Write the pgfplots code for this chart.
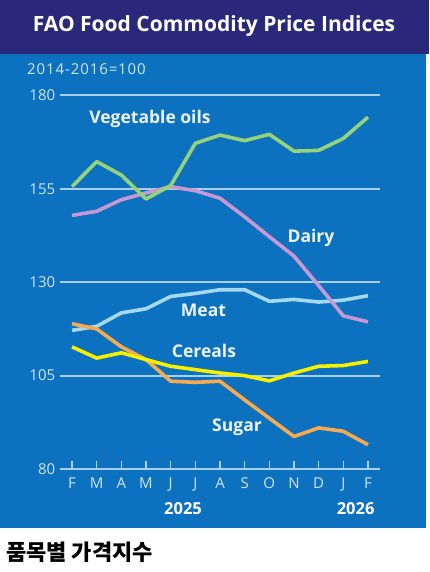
\documentclass[border=0pt]{standalone}
\usepackage{pgfplots}
\pgfplotsset{compat=1.18}
\usepackage{fontspec}
\setmainfont{Open Sans}
\newfontfamily\kr{Noto Sans CJK KR}
\newfontfamily\spaced{Open Sans}[LetterSpace=6]
\definecolor{navy}{RGB}{42,40,122}
\definecolor{panel}{RGB}{12,113,190}
\definecolor{gridc}{RGB}{170,208,240}
\definecolor{ticktext}{RGB}{212,228,245}
\definecolor{labtext}{RGB}{236,243,250}
\definecolor{vegc}{RGB}{150,210,122}
\definecolor{dairyc}{RGB}{200,152,212}
\definecolor{meatc}{RGB}{165,216,236}
\definecolor{cerc}{RGB}{246,240,0}
\definecolor{sugc}{RGB}{245,170,80}
\begin{document}
\begin{tikzpicture}
\useasboundingbox (0pt,0pt) rectangle (429pt,572pt);
\fill[white] (0pt,0pt) rectangle (429pt,572pt);
\fill[navy] (0pt,518pt) rectangle (429pt,572pt);
\fill[panel] (0pt,44pt) rectangle (426pt,518pt);
\node[anchor=base, text=white, inner sep=0pt, font=\bfseries\fontsize{21}{24}\selectfont] at (214pt,540pt) {FAO Food Commodity Price Indices};
\node[anchor=base west, text=ticktext, inner sep=0pt, font=\spaced\fontsize{15}{17}\selectfont] at (27pt,497pt) {2014-2016=100};
\node[anchor=base west, text=black, inner sep=0pt, font=\kr\bfseries\fontsize{22}{24}\selectfont] at (6pt,11pt) {품목별 가격지수};
\begin{axis}[
  at={(59.7pt,103pt)}, anchor=south west,
  scale only axis, width=320.6pt, height=373.5pt,
  xmin=-0.5, xmax=12.5, ymin=80, ymax=180,
  clip=false,
  axis line style={draw=none},
  xtick={0,...,12},
  xticklabels={F,M,A,M,J,J,A,S,O,N,D,J,F},
  ytick={80,105,130,155,180},
  ymajorgrids, grid style={gridc, line width=2pt},
  xtick pos=left, ytick pos=left,
  tick align=inside, major tick length=8pt,
  xtick style={gridc, line width=1.3pt},
  ytick style={draw=none},
  tick label style={text=ticktext, font=\fontsize{15}{17}\selectfont},
  xticklabel style={yshift=-5.5pt},
  yticklabel style={xshift=-1pt},
  /pgf/number format/assume math mode=true,
]
\addplot[meatc, line width=3.6pt, line join=round] coordinates {
(0,117.1) (1,118.2) (2,121.8) (3,122.9) (4,126.2) (5,127.0) (6,128.0) (7,128.0) (8,124.9) (9,125.4) (10,124.7) (11,125.2) (12,126.4)};
\addplot[dairyc, line width=3.6pt, line join=round] coordinates {
(0,147.9) (1,149.0) (2,152.1) (3,153.9) (4,155.6) (5,154.5) (6,152.5) (7,147.5) (8,142.2) (9,137.0) (10,129.1) (11,121.0) (12,119.4)};
\addplot[sugc, line width=3.6pt, line join=round] coordinates {
(0,118.9) (1,117.5) (2,112.7) (3,109.3) (4,103.5) (5,103.2) (6,103.5) (7,98.5) (8,93.6) (9,88.7) (10,91.0) (11,90.1) (12,86.5)};
\addplot[cerc, line width=3.6pt, line join=round] coordinates {
(0,112.7) (1,109.7) (2,111.1) (3,109.3) (4,107.5) (5,106.6) (6,105.7) (7,105.0) (8,103.6) (9,105.7) (10,107.5) (11,107.7) (12,108.8)};
\addplot[vegc, line width=3.6pt, line join=round] coordinates {
(0,155.6) (1,162.3) (2,158.7) (3,152.3) (4,155.9) (5,167.2) (6,169.4) (7,167.9) (8,169.6) (9,165.1) (10,165.3) (11,168.5) (12,174.2)};
\begin{scope}[every node/.style={anchor=base, text=labtext, inner sep=0pt, font=\bfseries\fontsize{17.5}{20}\selectfont}]
\node at (axis cs:3.16,172.6) {Vegetable oils};
\node at (axis cs:9.69,140.6) {Dairy};
\node at (axis cs:5.33,120.8) {Meat};
\node at (axis cs:5.35,109.9) {Cereals};
\node at (axis cs:6.69,90.0) {Sugar};
\end{scope}
\node[anchor=base, text=white, inner sep=0pt, font=\bfseries\fontsize{16.5}{19}\selectfont] at (axis cs:4.5,67.7) {2025};
\node[anchor=base, text=white, inner sep=0pt, font=\bfseries\fontsize{16.5}{19}\selectfont] at (axis cs:11.5,67.7) {2026};
\end{axis}
\end{tikzpicture}
\end{document}
